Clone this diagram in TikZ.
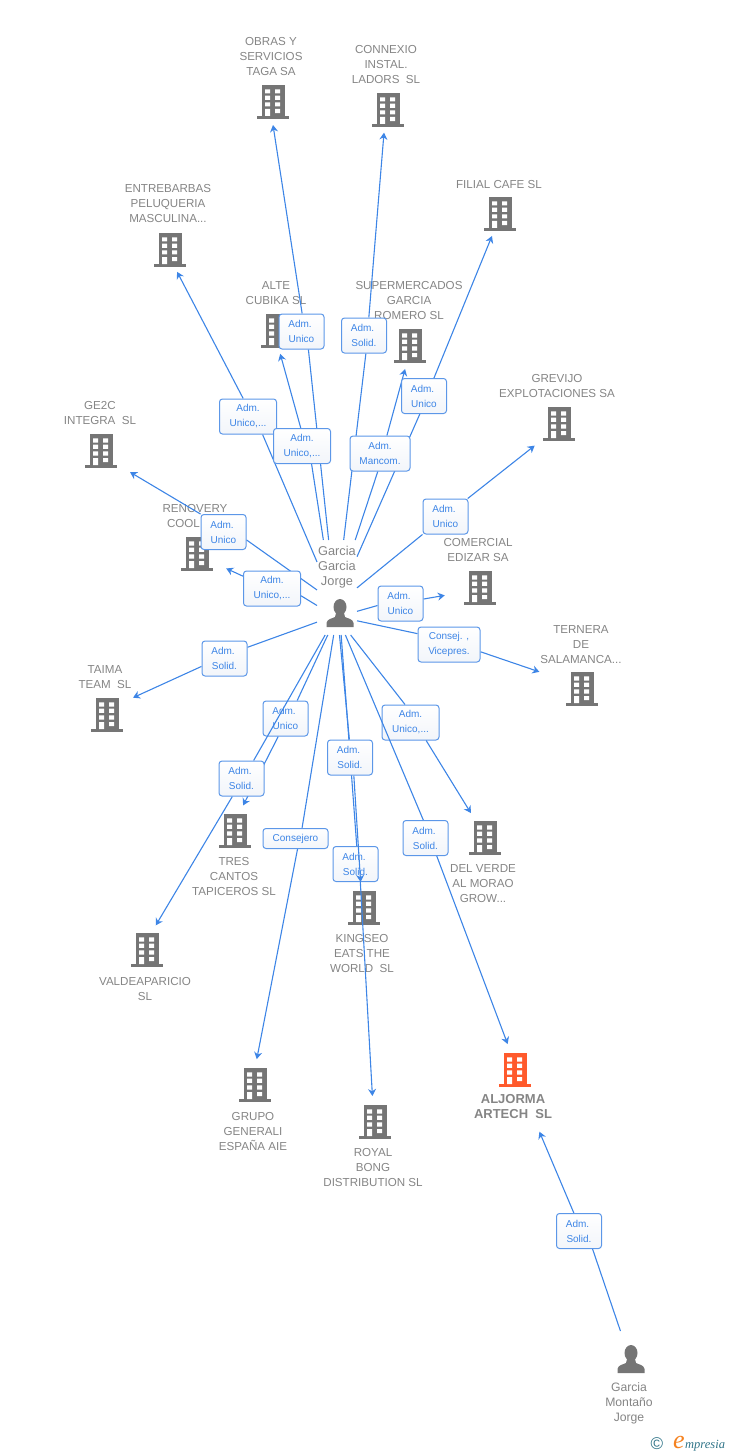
\documentclass[tikz,border=0pt]{standalone}
\usepackage{fontspec}
\setmainfont{Liberation Sans}
\newfontfamily\markfont{Liberation Serif}
\usetikzlibrary{arrows.meta,backgrounds}
\definecolor{icongray}{HTML}{757575}
\definecolor{textgray}{HTML}{858585}
\definecolor{linkblue}{HTML}{3D85E6}
\definecolor{boxblue}{HTML}{5C97E8}
\definecolor{boxtint}{HTML}{F2F5FA}
\definecolor{coralred}{HTML}{FF5A2C}
\definecolor{tealmark}{HTML}{2F7488}
\definecolor{orangemark}{HTML}{F58220}
\newcommand{\adm}{Adm.\kern3pt}
\newcommand{\company}[6]{%
  \node[bnode] (#1) at (#2,#3) {};
  \path (#2,#3) pic[fill=icongray] {bldg};
  \node[cotext] (#1-txt) at (#4,#5) {#6};
}
\newcommand{\linkto}[5]{\draw[link,-{Stealth[length=7pt,width=8pt]},shorten >=#5pt] (#1) -- (#2) (#3) -- (#4);}
\tikzset{
  lblbox/.style={draw=boxblue,line width=1pt,rounded corners=3pt,top color=white,bottom color=boxtint,text=linkblue,align=center,
    font=\fontsize{10}{15}\selectfont,minimum width=45pt,minimum height=35pt,inner sep=0pt},
  widebox/.style={lblbox,minimum width=#1},
  bnode/.style={circle,minimum size=46pt,inner sep=0pt,outer sep=0pt},
  pnode/.style={rectangle,inner sep=0pt,outer sep=0pt},
  cotext/.style={text=textgray,align=center,font=\fontsize{11.6}{15}\selectfont,inner sep=0pt,yshift=-1pt},
  nametext/.style={text=textgray,align=center,font=\fontsize{12.8}{15}\selectfont,inner sep=0pt,yshift=-1pt},
  link/.style={draw=linkblue,line width=1.1pt},
  bldg/.pic={
    \fill[pic actions] (-11.5,-17) rectangle (11.5,14);
    \fill[pic actions] (-16,14) rectangle (16,17);
    \fill[white] (-8,-12.7) rectangle (-3,-8.5) (2,-12.7) rectangle (7,-8.5);
    \fill[white] (-8,-6.3) rectangle (-3,-2.1) (2,-6.3) rectangle (7,-2.1);
    \fill[white] (-8,0.3) rectangle (-3,4.5) (2,0.3) rectangle (7,4.5);
    \fill[white] (-8,7) rectangle (-3,14) (2,7) rectangle (7,11.2);
  },
  persona/.pic={
    \fill[pic actions] (0,-7) ellipse (6.5 and 8);
    \fill[pic actions] (-13.5,13) -- (-13.5,9) .. controls (-13,5) and (-8,4.5) .. (-5,3) -- (-4,-1)
      -- (4,-1) -- (5,3) .. controls (8,4.5) and (13,5) .. (13.5,9) -- (13.5,13) -- cycle;
  }
}
\begin{document}
\begin{tikzpicture}[x=1pt,y=-1pt]
\useasboundingbox (0,0) rectangle (728,1455);
% role boxes
\node[lblbox] (lobras) at (301.5,331.5) {\adm\\Unico};
\node[lblbox] (lconnexio) at (364,335.5) {\adm\\Solid.};
\node[lblbox] (lfilial) at (424,396) {\adm\\Unico};
\node[widebox=57pt] (lentre) at (248,416.5) {Adm.\\Unico,...};
\node[widebox=57pt] (lalte) at (302,446) {Adm.\\Unico,...};
\node[widebox=60pt] (lsuper) at (380,453.5) {Adm.\\Mancom.};
\node[lblbox] (lgrevijo) at (445.5,516.5) {\adm\\Unico};
\node[lblbox] (lge2c) at (223.5,532) {\adm\\Unico};
\node[widebox=57pt] (lrenovery) at (272,588.5) {Adm.\\Unico,...};
\node[lblbox] (lcomercial) at (400.5,603.5) {\adm\\Unico};
\node[widebox=62pt] (lternera) at (449,644.5) {Consej. ,\\Vicepres.};
\node[lblbox] (ltaima) at (224.5,658.5) {\adm\\Solid.};
\node[lblbox] (lvalde) at (241.5,778.5) {\adm\\Solid.};
\node[widebox=65pt,minimum height=20pt] (lgrupo) at (295.5,838.5) {Consejero};
\node[lblbox] (lkingseo) at (350,757.5) {\adm\\Solid.};
\node[lblbox] (laljorma) at (425.5,838) {\adm\\Solid.};
\node[lblbox] (lmontano) at (579,1231) {\adm\\Solid.};
\begin{pgfonlayer}{background}
% companies
\company{obras}{273}{102}{271}{56}{OBRAS Y\\SERVICIOS\\TAGA SA}
\company{connexio}{388}{110}{386}{64}{CONNEXIO\\INSTAL.\\LADORS~ SL}
\company{filial}{500}{214}{499}{184}{FILIAL CAFE SL}
\company{entre}{170}{250}{168}{203}{ENTREBARBAS\\PELUQUERIA\\MASCULINA...}
\company{alte}{277}{331}{276}{292.5}{ALTE\\CUBIKA SL}
\company{super}{410}{346}{409}{300}{SUPERMERCADOS\\GARCIA\\ROMERO SL}
\company{grevijo}{559}{424}{557}{385.5}{GREVIJO\\EXPLOTACIONES SA}
\company{ge2c}{101}{451}{100}{412.5}{GE2C\\INTEGRA~ SL}
\company{renovery}{197}{554}{195}{515.5}{RENOVERY\\COOL\kern23pt}
\company{comercial}{480}{588}{478}{549.5}{COMERCIAL\\EDIZAR SA}
\company{ternera}{582}{689}{581}{644}{TERNERA\\DE\\SALAMANCA...}
\company{taima}{107}{715}{105}{676.5}{TAIMA\\TEAM~ SL}
\company{tres}{235}{831}{234}{875}{TRES\\CANTOS\\TAPICEROS SL}
\company{valde}{147}{950}{145}{987.5}{VALDEAPARICIO\\SL}
\company{grupo}{255}{1085}{253}{1130}{GRUPO\\GENERALI\\ESPAÑA AIE}
\company{kingseo}{364}{908}{362}{952}{KINGSEO\\EATS THE\\WORLD~ SL}
\company{royal}{375}{1122}{373}{1166}{ROYAL\\BONG\\DISTRIBUTION SL}
\company{delverde}{485}{838}{483}{883}{DEL VERDE\\AL MORAO\\GROW...}
\node[bnode] (aljorma) at (515,1070) {};
\path (515,1070) pic[fill=coralred] {bldg};
\node[cotext,font=\fontsize{13}{15}\selectfont\bfseries] (aljorma-txt) at (513,1106) {ALJORMA\\ARTECH~ SL};
% people
\node[pnode,minimum width=40pt,minimum height=95pt] (garcia) at (337,587.5) {};
\path (340,614) pic[fill=icongray] {persona};
\node[nametext] (garcia-txt) at (337,566) {Garcia\\Garcia\\Jorge};
\node[pnode,minimum width=40pt,minimum height=58pt] (montano) at (631,1360) {};
\path (631,1360) pic[fill=icongray] {persona};
\node[nametext,font=\fontsize{12.2}{15}\selectfont] (montano-txt) at (629,1402) {Garcia\\Montaño\\Jorge};
% these three boxes lie under the lines that cross them
\node[lblbox] (ltres) at (285.5,718.5) {\adm\\Unico};
\node[lblbox] (lroyal) at (355.5,864) {\adm\\Solid.};
\node[widebox=57pt] (ldelverde) at (410.5,722.5) {Adm.\\Unico,...};
% links
\linkto{garcia.100.7}{lobras.-69}{lobras.88.4}{obras.-90}{0}
\linkto{garcia.82.8}{lconnexio.-84.5}{lconnexio.75}{connexio.-100}{0}
\linkto{garcia.57.6}{lfilial.-103}{lfilial.61.3}{filial.-110}{0.4}
\linkto{garcia.128}{lentre.-51.1}{lentre.105}{entre.-72}{0}
\linkto{garcia.106.4}{lalte.-62.8}{lalte.94}{alte.-82.6}{0}
\linkto{garcia.69.2}{lsuper.-97.5}{lsuper.69}{super.-102}{0.5}
\linkto{garcia.-1}{lgrevijo.218}{lgrevijo.39}{grevijo.-137.5}{9.6}
\linkto{garcia.187}{lge2c.-19.6}{lge2c.142}{ge2c.-39.4}{13}
\linkto{garcia.222.8}{lrenovery.-14.5}{lrenovery.157}{renovery.-27.3}{9.6}
\linkto{garcia.-50.8}{lcomercial.185.6}{lcomercial.11.5}{comercial.-167}{13}
\linkto{garcia.-59.2}{lternera.161.3}{lternera.-13.6}{ternera.155.7}{23}
\linkto{garcia.240.6}{ltaima.26.8}{ltaima.199}{taima.37.2}{8.4}
\linkto{garcia.-101.9}{ltres.57.4}{ltres.-112.4}{tres.74.9}{3.9}
\linkto{garcia.-104.2}{lvalde.56}{lvalde.-117}{valde.72.3}{3.2}
\linkto{garcia.-94.8}{lgrupo.58.7}{lgrupo.-79.6}{grupo.87.8}{3}
\linkto{garcia.-87.6}{lkingseo.92}{lkingseo.-78.9}{kingseo.98.7}{3.3}
\linkto{garcia.-85.2}{lroyal.86}{lroyal.-75}{royal.96.6}{3.2}
\linkto{garcia.-74.7}{ldelverde.107.4}{ldelverde.-49.2}{delverde.119.2}{5.7}
\linkto{garcia.-80.4}{laljorma.97}{laljorma.-58.7}{aljorma.105}{4}
\linkto{montano.110.8}{lmontano.-53.4}{lmontano.106}{aljorma.-71.6}{43.4}
\end{pgfonlayer}
% watermark
\node[text=tealmark,font=\fontsize{17}{17}\selectfont,inner sep=0pt] (markc) at (657,1444) {©};
\node[text=orangemark,font=\fontsize{26}{26}\markfont\itshape,inner sep=0pt,anchor=base] (marke) at (679,1448.5) {e};
\node[text=tealmark,font=\fontsize{12.5}{12}\markfont\itshape,inner sep=0pt,anchor=base west] (markt) at (685,1448) {mpresia};
\end{tikzpicture}
\end{document}
